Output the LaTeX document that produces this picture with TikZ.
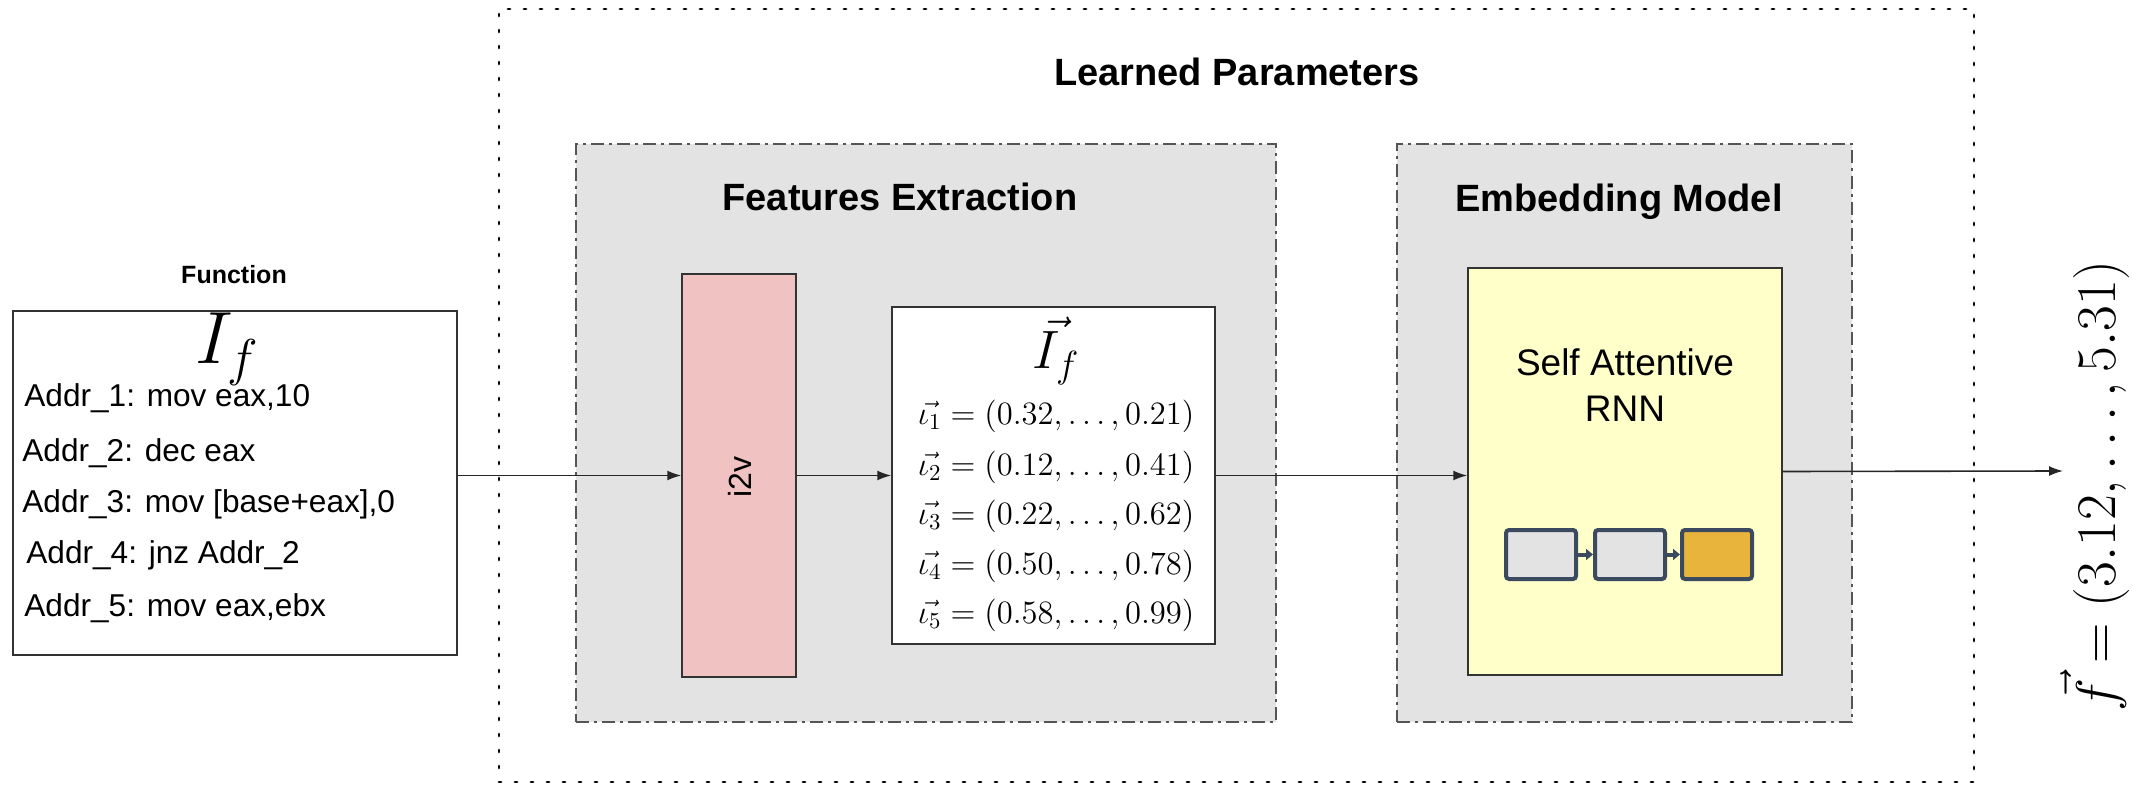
\RequirePackage{fix-cm}
\documentclass[tikz,border=0pt]{standalone}
\usepackage{fontspec}
\setmainfont{Liberation Sans}
\usetikzlibrary{arrows.meta}
\definecolor{groupgray}{HTML}{E3E3E3}
\definecolor{groupborder}{HTML}{555555}
\definecolor{i2vpink}{HTML}{F0C2C1}
\definecolor{rnnyellow}{HTML}{FFFFC9}
\definecolor{cellborder}{HTML}{3B4A5E}
\definecolor{cellgray}{HTML}{E3E3E3}
\definecolor{cellgold}{HTML}{E8B43C}
\begin{document}
\begin{tikzpicture}[x=0.5pt,y=-0.5pt,
  conn/.style={draw=black!85, line width=0.8pt, -{Latex[length=7pt,width=5pt]}},
  solidbox/.style={draw=black!80, line width=0.75pt, inner sep=0pt},
  groupbox/.style={draw=groupborder, fill=groupgray, line width=0.75pt, dash pattern=on 6.5pt off 2.5pt on 1.5pt off 2.5pt, inner sep=0pt},
  outerbox/.style={draw=black, line width=1.4pt, line cap=round, dash pattern=on 1pt off 7pt, inner sep=0pt},
  titletext/.style={font=\fontsize{19}{23}\selectfont\bfseries, inner sep=0pt},
  code/.style={font=\fontsize{15.8}{19}\selectfont, anchor=base west, inner sep=0pt},
  vecline/.style={font=\fontsize{16.3}{19}\selectfont, inner sep=0pt},
  cell/.style={draw=cellborder, line width=2pt, rounded corners=1.5pt, minimum width=35pt, minimum height=24.5pt, inner sep=0pt},
  cellarrow/.style={draw=cellborder, line width=2pt, -{Triangle[length=3.5pt,width=5.5pt]}},
]
\useasboundingbox (0,0) rectangle (2133,786);
\fill[white] (0,0) rectangle (2133,786);

% outer learned parameters frame
\node[outerbox, minimum width=737.5pt, minimum height=386.5pt] (learned) at (1236.5,395.5) {};
\node[titletext] (learnedtitle) at (1237,72) {Learned Parameters};

% group boxes
\node[groupbox, minimum width=350pt, minimum height=289pt] (fe) at (926,433) {};
\node[titletext] (fetitle) at (900,197) {Features Extraction};
\node[groupbox, minimum width=227.5pt, minimum height=289pt] (emb) at (1624.5,433) {};
\node[titletext] (embtitle) at (1619,202) {Embedding Model};

% function box
\node[font=\fontsize{12.5}{15}\selectfont\bfseries, inner sep=0pt] (funclabel) at (234,275) {Function};
\node[solidbox, fill=white, minimum width=222pt, minimum height=172pt] (func) at (235,483) {};
\node[anchor=base, inner sep=0pt, font=\fontsize{37}{42}\selectfont] (ifname) at (227,364) {$I_f$};
\node[code] (a1) at (24,407) {Addr\_1: mov eax,10};
\node[code] (a2) at (22,461) {Addr\_2: dec eax};
\node[code] (a3) at (22,512) {Addr\_3: mov [base+eax],0};
\node[code] (a4) at (26,563) {Addr\_4: jnz Addr\_2};
\node[code] (a5) at (24,616) {Addr\_5: mov eax,ebx};

% i2v
\node[solidbox, fill=i2vpink, minimum width=57pt, minimum height=201.5pt] (i2v) at (739,475.5) {};
\node[rotate=90, font=\fontsize{16}{19}\selectfont, inner sep=0pt] (i2vlabel) at (740,477) {i2v};

% instruction vectors
\node[solidbox, fill=white, minimum width=161.5pt, minimum height=168.5pt] (ifbox) at (1053.5,475.5) {};
\node[anchor=base, inner sep=0pt, font=\fontsize{27}{31}\selectfont] (ifvec) at (1056,369) {$\vec{I_f}$};
\node[vecline] (v1) at (1056,416) {$\vec{\iota_1} = (0.32,\ldots,0.21)$};
\node[vecline] (v2) at (1056,467) {$\vec{\iota_2} = (0.12,\ldots,0.41)$};
\node[vecline] (v3) at (1056,516) {$\vec{\iota_3} = (0.22,\ldots,0.62)$};
\node[vecline] (v4) at (1056,566) {$\vec{\iota_4} = (0.50,\ldots,0.78)$};
\node[vecline] (v5) at (1056,615) {$\vec{\iota_5} = (0.58,\ldots,0.99)$};

% RNN
\node[solidbox, fill=rnnyellow, minimum width=157pt, minimum height=203.5pt] (rnn) at (1625,471.5) {};
\node[align=center, font=\fontsize{18.5}{23}\selectfont, inner sep=0pt] (rnnlabel) at (1625,385) {Self Attentive\\RNN};
\node[cell, fill=cellgray] (c1) at (1541,554.5) {};
\node[cell, fill=cellgray] (c2) at (1630,554.5) {};
\node[cell, fill=cellgold] (c3) at (1717,554.5) {};
\draw[cellarrow] (c1.east) -- (c2.west);
\draw[cellarrow] (c2.east) -- (c3.west);

% output
\coordinate (outtip) at (2063,471);
\node[rotate=90, inner sep=0pt, font=\fontsize{28}{32}\selectfont] (fvec) at (2095,486) {$\vec{f} = (3.12,\ldots,5.31)$};

% connectors
\draw[conn] (func.east |- i2v.west) -- (i2v.west);
\draw[conn] (i2v.east) -- (ifbox.west);
\draw[conn] (ifbox.east) -- (ifbox.east -| rnn.west);
\draw[conn] (rnn.east) -- (outtip);
\end{tikzpicture}
\end{document}
